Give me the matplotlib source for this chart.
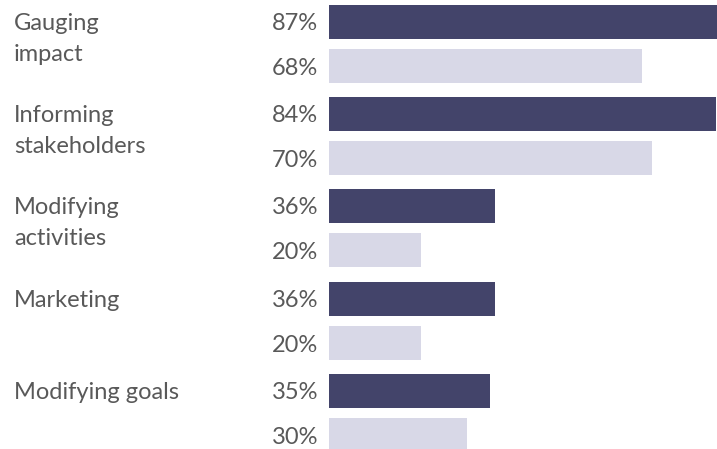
import matplotlib.pyplot as plt

categories = ["Gauging\nimpact", "Informing\nstakeholders", "Modifying\nactivities",
              "Marketing", "Modifying goals"]
dark_vals  = [87, 84, 36, 36, 35]
light_vals = [68, 70, 20, 20, 30]

dark_col  = "#43446a"
light_col = "#d8d8e7"
text_col  = "#595959"

plt.rcParams['font.family'] = ['Lato', 'DejaVu Sans']

fig = plt.figure(figsize=(7.17, 4.49), dpi=100)
W, H = 717, 449
ax = fig.add_axes([329 / W, 0, 1 - 329 / W, 1])

step  = 92.2          # px between groups
off   = 44 / step     # light bar offset
bh    = 34 / step     # bar height
pxx   = 4.61          # px per percent

ys_dark  = [i for i in range(len(categories))]
ys_light = [i + off for i in range(len(categories))]

ax.barh(ys_dark, dark_vals, height=bh, color=dark_col)
ax.barh(ys_light, light_vals, height=bh, color=light_col)

ax.set_xlim(0, 388 / pxx)
ax.set_ylim((H - 22) / step, -22 / step)
ax.axis('off')

fs = 17
for y, v in zip(ys_dark, dark_vals):
    ax.text(-11 / pxx, y + 8 / step, f"{v}%", ha='right', va='baseline', fontsize=fs,
            color=text_col, clip_on=False)
for y, v in zip(ys_light, light_vals):
    ax.text(-11 / pxx, y + 9 / step, f"{v}%", ha='right', va='baseline', fontsize=fs,
            color=text_col, clip_on=False)

for y, lab in zip(ys_dark, categories):
    for k, line in enumerate(lab.split("\n")):
        ax.text(-315 / pxx, y + (8 + 31 * k) / step, line, ha='left', va='baseline',
                fontsize=fs, color=text_col, clip_on=False)

fig.savefig("out.png", dpi=100)
